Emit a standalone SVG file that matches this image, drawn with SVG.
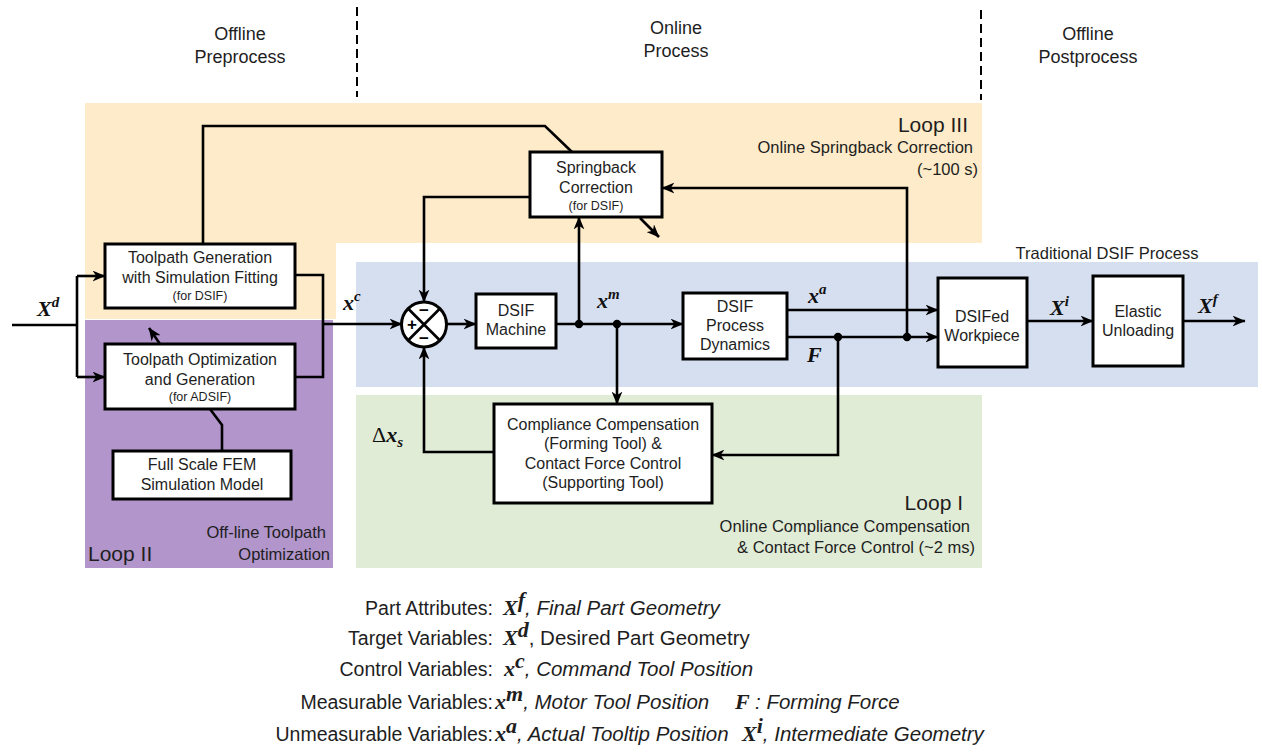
<svg xmlns="http://www.w3.org/2000/svg" width="1262" height="753" viewBox="0 0 1262 753">
  <style>
    .box { fill: #ffffff; stroke: #000000; stroke-width: 3; }
    .ln { fill: none; stroke: #000000; stroke-width: 2.6; }
    .arr { fill: none; stroke: #000000; stroke-width: 2.6; marker-end: url(#head); }
    .dash { stroke: #000000; stroke-width: 2; stroke-dasharray: 9 5; }
    .t { font-family: "Liberation Sans", Arial, sans-serif; font-size: 16px; fill: #1e1e1e; text-anchor: middle; }
    .sm { font-size: 12.5px; }
    .hd { font-family: "Liberation Sans", Arial, sans-serif; font-size: 18px; fill: #1e1e1e; text-anchor: middle; }
    .lp { font-family: "Liberation Sans", Arial, sans-serif; font-size: 21px; fill: #1e1e1e; }
    .cap { font-family: "Liberation Sans", Arial, sans-serif; font-size: 16.5px; fill: #1e1e1e; }
    .m { font-family: "Liberation Serif", "Times New Roman", serif; font-weight: bold; font-style: italic; font-size: 22px; fill: #111111; }
    .sup { font-size: 15px; }
    .lg { font-family: "Liberation Sans", Arial, sans-serif; font-size: 19.5px; fill: #1e1e1e; }
    .val { font-size: 20.5px; }
    .it { font-style: italic; }
    .lm { font-family: "Liberation Serif", "Times New Roman", serif; font-weight: bold; font-style: italic; font-size: 22px; }
    .sg { font-family: "Liberation Sans", Arial, sans-serif; font-size: 17px; font-weight: bold; fill: #000000; text-anchor: middle; }
  </style>
  <defs>
    <marker id="head" viewBox="0 0 12 10" refX="11.5" refY="5" markerWidth="13" markerHeight="11" markerUnits="userSpaceOnUse" orient="auto">
      <path d="M0,0 L12,5 L0,10 L3.5,5 Z" fill="#000000"/>
    </marker>
  </defs>

  <!-- background -->
  <rect x="0" y="0" width="1262" height="753" fill="#ffffff"/>

  <!-- loop regions -->
  <g id="regions">
    <path id="loop3-area" d="M85,103 H982 V243 H336 V319 H85 Z" fill="#fdebc9"/>
    <rect id="loop2-area" x="85" y="320" width="248" height="248" fill="#b295cb"/>
    <rect id="dsif-area" x="356" y="262" width="902" height="125" fill="#d6dff0"/>
    <rect id="loop1-area" x="356" y="395" width="626" height="173" fill="#e1ecd7"/>
  </g>

  <!-- phase headers -->
  <g id="phases">
    <line class="dash" x1="357" y1="7" x2="357" y2="97"/>
    <line class="dash" x1="981" y1="10" x2="981" y2="100"/>
    <text class="hd" x="240" y="40">Offline</text>
    <text class="hd" x="240" y="63">Preprocess</text>
    <text class="hd" x="676" y="34">Online</text>
    <text class="hd" x="676" y="57">Process</text>
    <text class="hd" x="1088" y="40">Offline</text>
    <text class="hd" x="1088" y="63">Postprocess</text>
  </g>

  <!-- region captions -->
  <g id="captions">
    <text class="lp" x="968" y="132" text-anchor="end">Loop III</text>
    <text class="cap" x="973" y="153" text-anchor="end">Online Springback Correction</text>
    <text class="cap" x="978" y="175" text-anchor="end">(~100 s)</text>
    <text class="cap" x="1107" y="259" text-anchor="middle">Traditional DSIF Process</text>
    <text class="lp" x="963" y="510" text-anchor="end">Loop I</text>
    <text class="cap" x="970" y="532" text-anchor="end">Online Compliance Compensation</text>
    <text class="cap" x="975" y="553" text-anchor="end">&amp; Contact Force Control (~2 ms)</text>
    <text class="lp" x="88" y="561">Loop II</text>
    <text class="cap" x="326" y="538" text-anchor="end">Off-line Toolpath</text>
    <text class="cap" x="330" y="560" text-anchor="end">Optimization</text>
  </g>

  <!-- connectors -->
  <g id="connectors">
    <!-- desired geometry input and split -->
    <polyline class="ln" points="12,325 77,325"/>
    <polyline class="ln" points="77,276 77,377"/>
    <polyline class="arr" points="77,276 105,276"/>
    <polyline class="arr" points="77,377 105,377"/>
    <!-- toolpath outputs merge into command position -->
    <polyline class="ln" points="295,275 323,275 323,377 295,377"/>
    <polyline class="arr" points="323,324 402,324"/>
    <!-- springback link to toolpath generation -->
    <polyline class="ln" points="203,244 203,126 545,126 572,152"/>
    <!-- optimization feeding upward -->
    <polyline class="arr" points="160,344 149,328"/>
    <!-- FEM model to optimization -->
    <polyline class="ln" points="222,451 222,425 210,409"/>
    <!-- summing junction to machine -->
    <polyline class="arr" points="447,324 476,324"/>
    <!-- machine to process dynamics -->
    <polyline class="arr" points="556,324 683,324"/>
    <!-- springback correction feedback into junction -->
    <polyline class="arr" points="530,197 424,197 424,302"/>
    <!-- motor position to springback correction -->
    <polyline class="arr" points="579,324 579,217"/>
    <!-- springback correction side output -->
    <polyline class="arr" points="640,218 659,237"/>
    <!-- motor position to compliance compensation -->
    <polyline class="arr" points="617,324 617,404"/>
    <!-- compensation back to junction -->
    <polyline class="arr" points="494,452 424,452 424,347"/>
    <!-- tooltip position and force to workpiece -->
    <polyline class="arr" points="787,310 938,310"/>
    <polyline class="arr" points="787,337 938,337"/>
    <!-- force to compensation -->
    <polyline class="arr" points="838,337 838,455 712,455"/>
    <!-- force to springback correction -->
    <polyline class="arr" points="907,337 907,188 662,188"/>
    <!-- workpiece to unloading to final -->
    <polyline class="arr" points="1027,321 1093,321"/>
    <polyline class="arr" points="1183,321 1245,321"/>
    <!-- branch points -->
    <circle cx="579" cy="324" r="4.2" fill="#000"/>
    <circle cx="617" cy="324" r="4.2" fill="#000"/>
    <circle cx="838" cy="337" r="4.2" fill="#000"/>
    <circle cx="907" cy="337" r="4.2" fill="#000"/>
  </g>

  <!-- signal labels -->
  <g id="signals">
    <text class="m" x="37" y="316">X<tspan class="sup" dy="-9">d</tspan></text>
    <text class="m" x="343" y="310">x<tspan class="sup" dy="-9">c</tspan></text>
    <text class="m" x="597" y="308">x<tspan class="sup" dy="-9">m</tspan></text>
    <text class="m" x="808" y="303">x<tspan class="sup" dy="-9">a</tspan></text>
    <text class="m" x="807" y="362">F</text>
    <text class="m" x="1050" y="315">X<tspan class="sup" dy="-9">i</tspan></text>
    <text class="m" x="1198" y="313">X<tspan class="sup" dy="-9">f</tspan></text>
    <text class="m" x="372" y="442"><tspan font-style="normal" font-weight="normal">Δ</tspan>x<tspan class="sup" dy="5">s</tspan></text>
  </g>

  <!-- nodes -->
  <g id="toolpath-generation">
    <rect class="box" x="105" y="244" width="190" height="64"/>
    <text class="t" x="200" y="263">Toolpath Generation</text>
    <text class="t" x="200" y="283">with Simulation Fitting</text>
    <text class="t sm" x="200" y="300">(for DSIF)</text>
  </g>

  <g id="toolpath-optimization">
    <rect class="box" x="105" y="344" width="190" height="65"/>
    <text class="t" x="200" y="365">Toolpath Optimization</text>
    <text class="t" x="200" y="385">and Generation</text>
    <text class="t sm" x="200" y="401">(for ADSIF)</text>
  </g>

  <g id="fem-model">
    <rect class="box" x="113" y="451" width="178" height="48"/>
    <text class="t" x="202" y="470">Full Scale FEM</text>
    <text class="t" x="202" y="490">Simulation Model</text>
  </g>

  <g id="springback-correction">
    <rect class="box" x="530" y="152" width="132" height="65"/>
    <text class="t" x="596" y="173">Springback</text>
    <text class="t" x="596" y="193">Correction</text>
    <text class="t sm" x="596" y="210">(for DSIF)</text>
  </g>

  <g id="summing-junction">
    <circle cx="424" cy="324.5" r="22.5" fill="#ffffff" stroke="#000" stroke-width="3"/>
    <line class="ln" x1="408" y1="308.5" x2="440" y2="340.5" stroke-width="3"/>
    <line class="ln" x1="440" y1="308.5" x2="408" y2="340.5" stroke-width="3"/>
    <text class="sg" x="424" y="316">−</text>
    <text class="sg" x="412" y="330">+</text>
    <text class="sg" x="424" y="344">−</text>
  </g>

  <g id="dsif-machine">
    <rect class="box" x="476" y="294" width="80" height="54"/>
    <text class="t" x="516" y="316">DSIF</text>
    <text class="t" x="516" y="335">Machine</text>
  </g>

  <g id="process-dynamics">
    <rect class="box" x="683" y="293" width="104" height="66"/>
    <text class="t" x="735" y="312">DSIF</text>
    <text class="t" x="735" y="331">Process</text>
    <text class="t" x="735" y="350">Dynamics</text>
  </g>

  <g id="compliance-compensation">
    <rect class="box" x="494" y="404" width="218" height="99"/>
    <text class="t" x="603" y="430">Compliance Compensation</text>
    <text class="t" x="603" y="449">(Forming Tool) &amp;</text>
    <text class="t" x="603" y="469">Contact Force Control</text>
    <text class="t" x="603" y="488">(Supporting Tool)</text>
  </g>

  <g id="dsifed-workpiece">
    <rect class="box" x="938" y="278" width="89" height="89"/>
    <text class="t" x="982" y="322">DSIFed</text>
    <text class="t" x="982" y="341">Workpiece</text>
  </g>

  <g id="elastic-unloading">
    <rect class="box" x="1093" y="276" width="90" height="90"/>
    <text class="t" x="1138" y="317">Elastic</text>
    <text class="t" x="1138" y="336">Unloading</text>
  </g>

  <!-- variable legend -->
  <g id="legend" class="lg">
    <text x="493" y="615" text-anchor="end">Part Attributes:</text>
    <text class="val" x="503" y="615"><tspan class="lm">X</tspan><tspan class="lm sup" dy="-8">f</tspan><tspan class="it" dy="8">, Final Part Geometry</tspan></text>

    <text x="493" y="645" text-anchor="end">Target Variables:</text>
    <text class="val" x="503" y="645"><tspan class="lm">X</tspan><tspan class="lm sup" dy="-8">d</tspan><tspan dy="8">, Desired Part Geometry</tspan></text>

    <text x="493" y="676" text-anchor="end">Control Variables:</text>
    <text class="val" x="504" y="676"><tspan class="lm">x</tspan><tspan class="lm sup" dy="-8">c</tspan><tspan class="it" dy="8">, Command Tool Position</tspan></text>

    <text x="493" y="709" text-anchor="end">Measurable Variables:</text>
    <text class="val" x="495" y="709"><tspan class="lm">x</tspan><tspan class="lm sup" dy="-8">m</tspan><tspan class="it" dy="8">, Motor Tool Position</tspan></text>
    <text class="val" x="735" y="709"><tspan class="lm">F</tspan><tspan class="it" x="755">: Forming Force</tspan></text>

    <text x="493" y="741" text-anchor="end">Unmeasurable Variables:</text>
    <text class="val" x="495" y="741"><tspan class="lm">x</tspan><tspan class="lm sup" dy="-8">a</tspan><tspan class="it" dy="8">, Actual Tooltip Position</tspan></text>
    <text class="val" x="742" y="741"><tspan class="lm">X</tspan><tspan class="lm sup" dy="-8">i</tspan><tspan class="it" dy="8">, Intermediate Geometry</tspan></text>
  </g>
</svg>
